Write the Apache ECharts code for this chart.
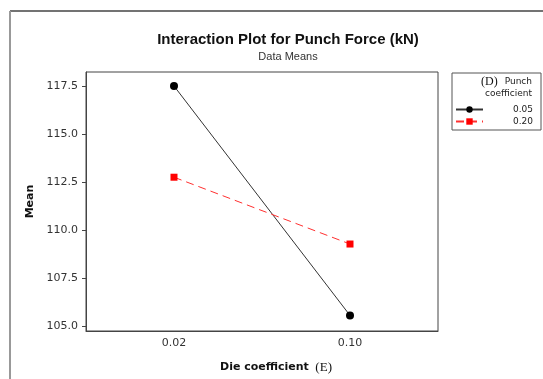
<!DOCTYPE html>
<html>
<head>
<meta charset="utf-8">
<script src="https://cdn.jsdelivr.net/npm/echarts@6/dist/echarts.min.js"></script>
<style>
html,body{margin:0;padding:0;background:#fff;}
#chart{width:543px;height:379px;}
</style>
</head>
<body>
<div id="chart"></div>
<script>
const categories = ['0.02', '0.10'];
const seriesNames = ['0.05', '0.20'];
const punch005 = [117.5, 105.55];
const punch020 = [112.75, 109.27];
const yTicks = [105.0, 107.5, 110.0, 112.5, 115.0, 117.5];

const chart = echarts.init(document.getElementById('chart'));
const baseFont = 'DejaVu Sans';
chart.setOption({
  animation: false,
  backgroundColor: '#fff',
  title: {
    text: 'Interaction Plot for Punch Force (kN)',
    subtext: 'Data Means',
    left: 283, textAlign: 'center', top: 27,
    itemGap: 4,
    textStyle: {fontFamily: 'Liberation Sans', fontWeight: 'bold', fontSize: 15, color: '#111'},
    subtextStyle: {fontFamily: 'Liberation Sans', fontSize: 11, color: '#333'}
  },
  grid: {left: 86, right: 105, top: 72, bottom: 47, show: true, borderColor: '#444', borderWidth: 1},
  legend: {
    orient: 'vertical', left: 455, top: 105, padding: 0,
    itemWidth: 27, itemHeight: 8, itemGap: 3,
    data: seriesNames,
    formatter: '{r|{name}}',
    textStyle: {rich: {r: {fontFamily: baseFont, fontSize: 9, color: '#222', width: 45, align: 'right'}}}
  },
  xAxis: {
    type: 'category', data: categories, boundaryGap: true,
    axisLine: {lineStyle: {color: '#444'}},
    axisTick: {alignWithLabel: true, length: 4, lineStyle: {color: '#444'}},
    axisLabel: {fontFamily: baseFont, fontSize: 11, color: '#333', margin: 7},
    name: '{s|}{a|Die coefficient}{e|  (E)}',
    nameLocation: 'middle', nameGap: 30,
    nameTextStyle: {
      rich: {
        s: {width: 28},
        a: {fontFamily: baseFont, fontWeight: 'bold', fontSize: 11, color: '#111'},
        e: {fontFamily: 'Liberation Serif', fontSize: 13, color: '#111'}
      }
    }
  },
  yAxis: {
    type: 'value', min: 104.74, max: 118.23,
    splitLine: {show: false},
    axisLine: {show: true, lineStyle: {color: '#444'}},
    axisTick: {show: true, length: 4, customValues: yTicks, lineStyle: {color: '#444'}},
    axisLabel: {customValues: yTicks, formatter: v => v.toFixed(1), fontFamily: baseFont, fontSize: 11, color: '#333', margin: 8},
    name: 'Mean', nameLocation: 'middle', nameGap: 46,
    nameTextStyle: {fontFamily: baseFont, fontWeight: 'bold', fontSize: 11, color: '#111'}
  },
  graphic: [
    {type: 'line', shape: {x1: 10, y1: 11, x2: 543, y2: 11}, style: {stroke: '#444', lineWidth: 1.5}},
    {type: 'line', shape: {x1: 10, y1: 11, x2: 10, y2: 379}, style: {stroke: '#999', lineWidth: 2}},
    {type: 'rect', shape: {x: 452, y: 73, width: 89, height: 57}, style: {fill: 'none', stroke: '#555', lineWidth: 1}},
    {type: 'text', x: 481, y: 76, style: {text: '(D)', font: '12px "Liberation Serif"', fill: '#111'}},
    {type: 'text', x: 532, y: 77, style: {text: 'Punch', font: '9px "DejaVu Sans"', fill: '#222', align: 'right'}},
    {type: 'text', x: 532, y: 89, style: {text: 'coefficient', font: '9px "DejaVu Sans"', fill: '#222', align: 'right'}}
  ],
  series: [
    {
      name: seriesNames[0], type: 'line', data: punch005,
      symbol: 'circle', symbolSize: 8,
      itemStyle: {color: '#000'},
      lineStyle: {color: '#333', width: 1}
    },
    {
      name: seriesNames[1], type: 'line', data: punch020,
      symbol: 'rect', symbolSize: 7,
      itemStyle: {color: '#f00'},
      lineStyle: {color: '#ff3030', width: 1, type: [8, 5]}
    }
  ]
});
</script>
</body>
</html>
